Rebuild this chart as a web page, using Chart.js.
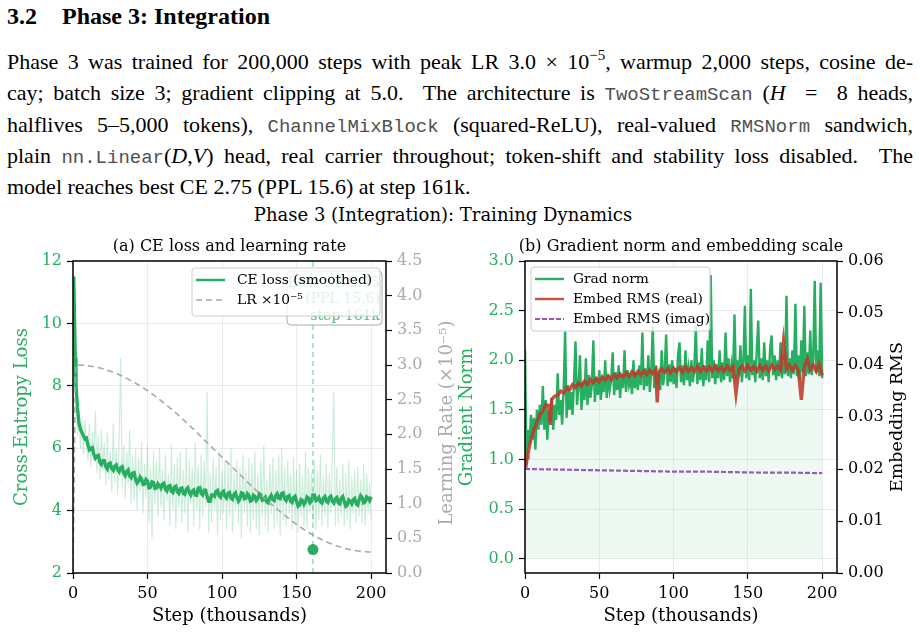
<!DOCTYPE html>
<html>
<head>
<meta charset="utf-8">
<script src="https://cdn.jsdelivr.net/npm/chart.js@4.4.1/dist/chart.umd.min.js"></script>
<style>
  body{margin:0;width:920px;height:635px;background:#fff;position:relative;overflow:hidden;font-family:"Liberation Serif",serif;color:#000}
  #head{position:absolute;left:7px;top:1px;font-weight:bold;font-size:24px;line-height:30px;white-space:nowrap}
  #head span{margin-right:25px}
  #para{position:absolute;left:7px;top:46px;width:906px;font-size:22px}
  #para div{height:31.25px;line-height:31.25px;text-align:justify;text-align-last:justify;white-space:nowrap}
  #para div.last{text-align-last:left}
  .tt{font-family:"Liberation Mono",monospace;color:#505050;font-size:19px;line-height:0}
  sup{font-size:0.68em;line-height:0;vertical-align:0.6em}
  #sup{position:absolute;left:0;width:886px;top:203px;text-align:center;font-family:"DejaVu Serif",serif;font-size:18px;line-height:24px}
  .box{position:absolute;top:225px;height:410px}
  #boxA{left:0;width:460px}
  #boxB{left:452px;width:468px}
</style>
</head>
<body>
<div id="head"><span>3.2</span>Phase 3: Integration</div>
<div id="para">
  <div>Phase 3 was trained for 200,000 steps with peak LR 3.0 × 10<sup>−5</sup>, warmup 2,000 steps, cosine de-</div>
  <div>cay; batch size 3; gradient clipping at 5.0. &nbsp;The architecture is <span class="tt">TwoStreamScan</span> (<i>H</i> &nbsp;= &nbsp;8 heads,</div>
  <div>halflives 5–5,000 tokens), <span class="tt">ChannelMixBlock</span> (squared-ReLU), real-valued <span class="tt">RMSNorm</span> sandwich,</div>
  <div>plain <span class="tt">nn.Linear</span>(<i>D</i>,<i>V</i>) head, real carrier throughout; token-shift and stability loss disabled. &nbsp;The</div>
  <div class="last">model reaches best CE 2.75 (PPL 15.6) at step 161k.</div>
</div>
<div id="sup">Phase 3 (Integration): Training Dynamics</div>
<div class="box" id="boxA"><canvas id="chartA" width="460" height="410"></canvas></div>
<div class="box" id="boxB"><canvas id="chartB" width="468" height="410"></canvas></div>

<script>
/* ---------- data ---------- */
const stepTicks = [0, 50, 100, 150, 200];

// (a) CE loss: raw logged values, one per 1k steps (steps 1..200)
const ceRaw = [
  8.2,7.9,6.4,7.2,6.0,7.0,5.8,6.9,6.2,5.6,
  6.8,5.4,6.5,5.6,7.2,5.2,6.4,5.0,6.6,5.3,
  6.2,4.8,6.5,5.0,5.9,4.6,6.8,4.9,6.0,4.5,
  6.3,8.9,4.7,6.1,4.4,5.9,4.8,6.6,4.2,5.8,
  4.3,6.0,4.0,5.7,4.6,6.2,3.9,5.5,4.4,6.1,
  3.6,5.4,3.1,5.9,4.2,5.6,3.8,6.0,4.1,5.3,
  3.7,5.8,4.3,5.2,3.5,6.1,4.0,5.5,3.4,5.7,
  4.1,5.9,3.6,5.3,3.9,6.0,3.3,5.6,4.2,5.4,
  3.5,6.2,4.0,5.5,3.4,5.8,3.8,5.6,4.1,7.8,
  3.3,5.2,3.6,5.7,4.0,5.4,3.2,5.9,3.7,5.3,
  3.9,5.6,3.4,5.5,3.8,6.0,3.3,5.2,4.0,5.6,
  3.6,5.4,3.1,5.8,3.9,5.3,3.5,5.7,3.3,5.5,
  3.7,5.9,3.4,5.2,3.2,5.6,3.8,6.1,3.5,5.0,
  3.3,5.5,3.9,5.7,3.4,5.3,3.6,5.8,3.2,6.0,
  3.7,5.4,3.5,5.6,3.9,5.2,3.4,5.7,3.6,5.3,
  3.3,5.5,3.8,5.1,3.5,5.9,3.4,5.4,3.9,5.2,
  3.6,5.6,3.4,5.3,3.7,5.8,3.5,5.1,3.8,5.5,
  3.4,5.2,3.9,5.7,7.8,3.5,5.4,3.6,5.0,3.8,
  5.5,3.5,5.2,3.7,5.6,3.4,5.1,3.9,5.3,3.6,
  5.4,3.8,5.0,3.6,5.5,3.5,5.2,3.9,4.9,3.7
];
// smoothed CE: dense start, then one value per 1k steps from step 8 to 200
const ceSmoothStart = [0.5, 1, 1.5, 2, 3, 4, 5, 6, 7];
const ceSmooth = [
  11.5,10.2,8.9,8.0,7.3,6.8,6.6,6.5,6.4,
  6.3,6.32,6.1,5.95,6.0,6.02,5.8,5.68,5.75,5.77,
  5.55,5.48,5.6,5.6,5.4,5.33,5.5,5.52,5.35,5.29,
  5.42,5.46,5.3,5.24,5.38,5.41,5.2,5.12,5.25,5.3,
  5.1,5.05,5.2,5.22,5.0,4.88,4.95,5.08,5.02,4.84,
  4.85,5.0,4.95,4.73,4.75,4.92,4.9,4.71,4.72,4.86,
  4.8,4.72,4.85,4.88,4.68,4.63,4.78,4.8,4.62,4.58,
  4.75,4.78,4.6,4.55,4.7,4.72,4.55,4.52,4.68,4.73,
  4.58,4.5,4.62,4.66,4.5,4.49,4.72,4.74,4.55,4.5,
  4.65,4.65,4.45,4.3,4.3,4.5,4.5,4.46,4.62,4.65,
  4.48,4.43,4.58,4.62,4.45,4.4,4.55,4.58,4.4,4.36,
  4.52,4.57,4.42,4.3,4.38,4.57,4.55,4.38,4.4,4.54,
  4.48,4.3,4.32,4.49,4.45,4.32,4.38,4.54,4.5,4.33,
  4.35,4.42,4.28,4.25,4.42,4.49,4.35,4.32,4.48,4.54,
  4.4,4.38,4.55,4.57,4.38,4.32,4.45,4.48,4.3,4.26,
  4.42,4.46,4.3,4.14,4.18,4.35,4.32,4.2,4.28,4.44,
  4.4,4.25,4.3,4.5,4.5,4.32,4.35,4.42,4.28,4.24,
  4.4,4.45,4.3,4.26,4.42,4.46,4.3,4.24,4.38,4.42,
  4.25,4.22,4.4,4.45,4.3,4.14,4.18,4.34,4.3,4.22,
  4.35,4.39,4.22,4.18,4.35,4.48,4.42,4.25,4.28,4.44,
  4.4,4.32,4.45
];
// learning rate (x1e-5)
const lrSteps = [0,2,10,20,30,40,50,60,70,80,90,100,110,120,130,140,150,160,170,180,190,200];
const lrVals  = [0,3.0,2.99,2.945,2.87,2.76,2.63,2.47,2.29,2.09,1.88,1.67,1.46,1.25,1.05,0.87,0.70,0.56,0.45,0.37,0.32,0.30];
const bestStep = 161, bestCE = 2.75;
const annoLines = ['Best CE 2.75', '(PPL 15.6)', 'step 161k'];
const ceTicks = [2, 4, 6, 8, 10, 12];
const lrTicks = [0, 0.5, 1, 1.5, 2, 2.5, 3, 3.5, 4, 4.5];

// (b) gradient norm, one per 1k steps (steps 0..200)
const gradNorm = [
  2.1,0.95,1.3,1.15,1.45,1.2,1.42,1.1,1.5,1.3,
  1.55,1.35,1.74,1.3,1.6,1.2,1.5,1.38,1.62,1.3,
  1.55,1.4,1.87,1.45,1.6,1.35,1.7,2.29,1.42,1.75,
  1.5,1.68,1.45,1.8,2.19,1.55,1.72,2.05,1.5,1.78,
  1.6,2.02,1.55,1.85,1.62,1.75,2.2,1.58,1.82,1.65,
  1.9,1.6,1.78,1.68,2.0,1.62,1.85,1.7,1.8,2.08,
  1.65,1.88,1.7,1.95,1.62,1.85,1.72,2.1,1.68,1.9,
  1.75,1.82,1.66,2.0,1.72,1.88,1.7,1.95,1.75,2.28,
  1.7,1.92,1.74,2.05,1.68,1.9,2.34,1.72,1.95,1.78,
  1.86,1.7,2.1,1.75,1.9,2.26,1.74,1.96,1.78,2.0,
  1.76,1.92,1.72,2.05,2.18,1.78,1.95,1.75,2.1,1.8,
  1.92,1.74,2.0,1.78,1.94,2.34,1.76,1.98,1.8,2.12,
  1.74,1.95,1.8,2.2,1.78,2.86,1.82,2.0,1.76,1.96,
  1.82,2.1,1.78,1.98,1.8,2.28,1.84,2.02,1.78,1.95,
  1.82,2.46,1.8,2.0,1.84,2.15,1.78,1.98,2.55,1.82,
  2.05,1.8,2.72,1.85,2.0,1.78,2.1,2.4,1.82,2.02,
  1.8,2.18,1.84,2.0,1.78,2.12,2.25,1.85,2.05,1.8,
  2.0,1.84,2.18,1.82,2.05,1.86,2.65,1.84,2.02,1.82,
  2.1,1.86,2.57,1.84,2.05,1.8,2.2,1.88,2.55,1.84,
  2.08,1.86,2.3,1.85,2.02,2.8,1.88,2.1,1.84,2.78,
  1.82
];
const embRealSteps = [
  0.5,1,1.5,2,3,4,5,6,7,8,9,10,12,14,16,17,18,20,22,24,
  26,28,30,32,34,36,38,40,42,44,46,48,50,52,54,56,58,60,62,64,
  66,68,70,72,74,76,78,80,82,84,86,88,89,90,92,94,96,98,100,102,
  104,106,108,110,112,114,116,118,120,122,124,126,128,130,132,134,136,138,140,142,
  144,146,148,150,152,154,156,158,160,162,164,166,168,170,172,174,176,178,180,182,
  184,186,188,190,192,194,196,198,200
];
const embReal = [
  0.0202,0.0212,0.0222,0.0230,0.0244,0.0257,0.0266,0.0276,0.0281,0.0292,0.0296,0.0305,0.0312,0.0324,0.0322,0.0285,0.0334,0.0340,0.0342,0.0350,
  0.0346,0.0356,0.0352,0.0362,0.0357,0.0365,0.0360,0.0369,0.0363,0.0372,0.0366,0.0374,0.0368,0.0377,0.0371,0.0379,0.0372,0.0381,0.0375,0.0383,
  0.0377,0.0385,0.0378,0.0387,0.0380,0.0388,0.0381,0.0389,0.0382,0.0390,0.0384,0.0391,0.0328,0.0385,0.0392,0.0386,0.0393,0.0385,0.0394,0.0387,
  0.0395,0.0386,0.0396,0.0388,0.0395,0.0387,0.0397,0.0388,0.0396,0.0389,0.0397,0.0388,0.0398,0.0389,0.0396,0.0388,0.0398,0.0390,0.0397,0.0345,
  0.0391,0.0398,0.0389,0.0399,0.0390,0.0397,0.0388,0.0399,0.0390,0.0398,0.0389,0.0400,0.0391,0.0398,0.0390,0.0446,0.0392,0.0400,0.0390,0.0399,
  0.0389,0.0333,0.0398,0.0411,0.0391,0.0400,0.0388,0.0402,0.0380
];
const embImagSteps = [0, 20, 40, 60, 80, 100, 120, 140, 160, 180, 200];
const embImag      = [0.0200,0.0199,0.0198,0.0197,0.0196,0.0195,0.0195,0.0194,0.0193,0.0193,0.0192];
const gradTicks = [0, 0.5, 1, 1.5, 2, 2.5, 3];
const rmsTicks  = [0, 0.01, 0.02, 0.03, 0.04, 0.05, 0.06];

/* ---------- helpers ---------- */
const GREEN = '#27ae60', GREY = '#a9a9a9', RED = '#c0392b', PURPLE = '#9b59b6';
const SERIF = '"DejaVu Serif", serif';

function seq(a, b, d){ const out = []; for(let v = a; v <= b + 1e-9; v += d) out.push(v); return out; }
const pts = (xs, ys) => ys.map((y, i) => ({ x: xs[i], y }));

function axis(position, min, max, tickVals, color, fmt, extent, onArea){
  return {
    type: 'linear', position, min, max,
    afterBuildTicks: s => { s.ticks = tickVals.map(v => ({ value: v })); },
    afterFit: s => { if(position === 'bottom') s.height = extent; else s.width = extent; },
    border: { display: false },
    grid: { drawOnChartArea: onArea, color: 'rgba(0,0,0,0.075)', lineWidth: 1,
            tickColor: '#000', tickLength: 6, tickWidth: 1.2 },
    ticks: { color, font: { family: SERIF, size: 16 }, padding: 5, maxRotation: 0,
             autoSkip: false, callback: fmt }
  };
}

function roundRect(ctx, x, y, w, h, r){
  ctx.beginPath();
  ctx.moveTo(x + r, y); ctx.lineTo(x + w - r, y); ctx.quadraticCurveTo(x + w, y, x + w, y + r);
  ctx.lineTo(x + w, y + h - r); ctx.quadraticCurveTo(x + w, y + h, x + w - r, y + h);
  ctx.lineTo(x + r, y + h); ctx.quadraticCurveTo(x, y + h, x, y + h - r);
  ctx.lineTo(x, y + r); ctx.quadraticCurveTo(x, y, x + r, y);
  ctx.closePath();
}

/* frame, titles, legend and note, drawn matplotlib-style */
function makeDeco(cfg){
  return {
    id: 'deco',
    afterDatasetsDraw(chart){
      const { ctx, chartArea: a } = chart;
      ctx.save();
      ctx.strokeStyle = '#000'; ctx.lineWidth = 1.5;
      ctx.strokeRect(a.left, a.top, a.right - a.left, a.bottom - a.top);
      ctx.restore();
    },
    afterDraw(chart){
      const { ctx, chartArea: a } = chart;
      const cx = (a.left + a.right) / 2, cy = (a.top + a.bottom) / 2;
      ctx.save();
      ctx.textAlign = 'center'; ctx.textBaseline = 'middle';
      ctx.fillStyle = '#000';
      ctx.font = `16px ${SERIF}`;
      ctx.fillText(cfg.title, cx, a.top - 14);
      ctx.font = `18px ${SERIF}`;
      ctx.fillText(cfg.xTitle, cx, a.bottom + 43);
      for(const t of cfg.yTitles){
        ctx.save();
        ctx.translate(t.x, cy + (t.dy || 0)); ctx.rotate(-Math.PI / 2);
        ctx.fillStyle = t.color; ctx.font = `${t.size}px ${SERIF}`;
        ctx.fillText(t.text, 0, 0);
        ctx.restore();
      }

      if(cfg.anno){
        const n = cfg.anno;
        ctx.fillStyle = 'rgba(255,255,255,0.85)'; ctx.strokeStyle = 'rgba(120,120,120,0.6)'; ctx.lineWidth = 1;
        roundRect(ctx, n.x, n.y, n.w, n.h, 4); ctx.fill(); ctx.stroke();
        ctx.fillStyle = 'rgba(39,174,96,0.8)'; ctx.font = `14px ${SERIF}`; ctx.textAlign = 'right';
        n.lines.forEach((s, i) => ctx.fillText(s, n.x + n.w - 2, n.y + 12 + i * 16.5));
      }

      const L = cfg.legend;
      const items = chart.data.datasets.filter(d => d.label);
      ctx.fillStyle = 'rgba(255,255,255,0.8)'; ctx.strokeStyle = '#cccccc'; ctx.lineWidth = 1;
      roundRect(ctx, L.x, L.y, L.w, L.h, 3); ctx.fill(); ctx.stroke();
      ctx.font = `13.8px ${SERIF}`; ctx.textAlign = 'left';
      items.forEach((d, i) => {
        const y = L.y + 12 + i * 20;
        ctx.save();
        ctx.strokeStyle = d.borderColor; ctx.lineWidth = d.legendWidth || d.borderWidth;
        ctx.setLineDash(d.borderDash || []);
        ctx.beginPath(); ctx.moveTo(L.x + 4, y); ctx.lineTo(L.x + 33, y); ctx.stroke();
        ctx.restore();
        ctx.fillStyle = '#000';
        ctx.fillText(d.label, L.x + L.tx, y);
      });
      ctx.restore();
    }
  };
}

const base = {
  responsive: false, animation: false, normalized: true,
  layout: { padding: { top: 36, left: 0, right: 0, bottom: 0 } },
  elements: { point: { radius: 0, hoverRadius: 0 }, line: { tension: 0 } },
  plugins: { legend: { display: false }, tooltip: { enabled: false }, title: { display: false } },
  events: []
};

/* ---------- (a) CE loss and learning rate ---------- */
new Chart(document.getElementById('chartA'), {
  type: 'line',
  data: { datasets: [
    { data: pts(seq(1, 200, 1), ceRaw), yAxisID: 'y', borderColor: 'rgba(39,174,96,0.24)', borderWidth: 1.1, order: 6 },
    { label: 'CE loss (smoothed)', data: pts(ceSmoothStart.concat(seq(8, 200, 1)), ceSmooth), yAxisID: 'y',
      borderColor: GREEN, borderWidth: 3.4, legendWidth: 2.5, order: 5 },
    { label: 'LR \u00d710\u207b\u2075', data: pts(lrSteps, lrVals), yAxisID: 'y2', borderColor: GREY, borderWidth: 1.6,
      borderDash: [6, 4], cubicInterpolationMode: 'monotone', order: 4 },
    { data: [{ x: bestStep, y: ceTicks[0] }, { x: bestStep, y: ceTicks[ceTicks.length - 1] }], yAxisID: 'y',
      borderColor: 'rgba(46,204,113,0.65)', borderWidth: 1.3, borderDash: [5, 4], order: 3 },
    { data: [{ x: bestStep, y: bestCE }], yAxisID: 'y', showLine: false, pointRadius: 5.5,
      pointBackgroundColor: GREEN, pointBorderWidth: 0, order: 1 }
  ]},
  options: Object.assign({}, base, {
    scales: {
      x:  axis('bottom', 0, 210, stepTicks, '#000', v => v, 62, true),
      y:  axis('left', 2, 12, ceTicks, GREEN, v => v, 73, true),
      y2: axis('right', 0, 4.5, lrTicks, '#aaaaaa', v => v.toFixed(1), 74, false)
    }
  }),
  plugins: [makeDeco({
    title: '(a) CE loss and learning rate',
    xTitle: 'Step (thousands)',
    yTitles: [
      { text: 'Cross-Entropy Loss', color: GREEN, x: 22, size: 18 },
      { text: 'Learning Rate (\u00d710\u207b\u2075)', color: '#aaaaaa', x: 447, dy: 6, size: 18 }
    ],
    anno: { x: 287, y: 46, w: 95, h: 54, lines: annoLines },
    legend: { x: 192, y: 43, w: 188, h: 48, tx: 45 }
  })]
});

/* ---------- (b) gradient norm and embedding scale ---------- */
new Chart(document.getElementById('chartB'), {
  type: 'line',
  data: { datasets: [
    { label: 'Grad norm', data: pts(seq(0, 200, 1), gradNorm), yAxisID: 'y', borderColor: GREEN, borderWidth: 2.4,
      fill: 'origin', backgroundColor: 'rgba(39,174,96,0.08)', order: 4 },
    { label: 'Embed RMS (real)', data: pts(embRealSteps, embReal), yAxisID: 'y2', borderColor: 'rgba(192,57,43,0.88)', borderWidth: 3.4, legendWidth: 2.4, order: 3 },
    { label: 'Embed RMS (imag)', data: pts(embImagSteps, embImag), yAxisID: 'y2', borderColor: PURPLE, borderWidth: 2.2,
      borderDash: [5, 2], order: 2 }
  ]},
  options: Object.assign({}, base, {
    scales: {
      x:  axis('bottom', 0, 210, stepTicks, '#000', v => v, 62, true),
      y:  axis('left', -0.143, 3.0, gradTicks, GREEN, v => v.toFixed(1), 73, true),
      y2: axis('right', 0, 0.06, rmsTicks, '#000', v => v.toFixed(2), 83, false)
    }
  }),
  plugins: [makeDeco({
    title: '(b) Gradient norm and embedding scale',
    xTitle: 'Step (thousands)',
    yTitles: [
      { text: 'Gradient Norm', color: GREEN, x: 15, size: 18 },
      { text: 'Embedding RMS', color: '#000', x: 445, size: 17.5 }
    ],
    legend: { x: 79, y: 42, w: 179, h: 64, tx: 42 }
  })]
});
</script>
</body>
</html>
